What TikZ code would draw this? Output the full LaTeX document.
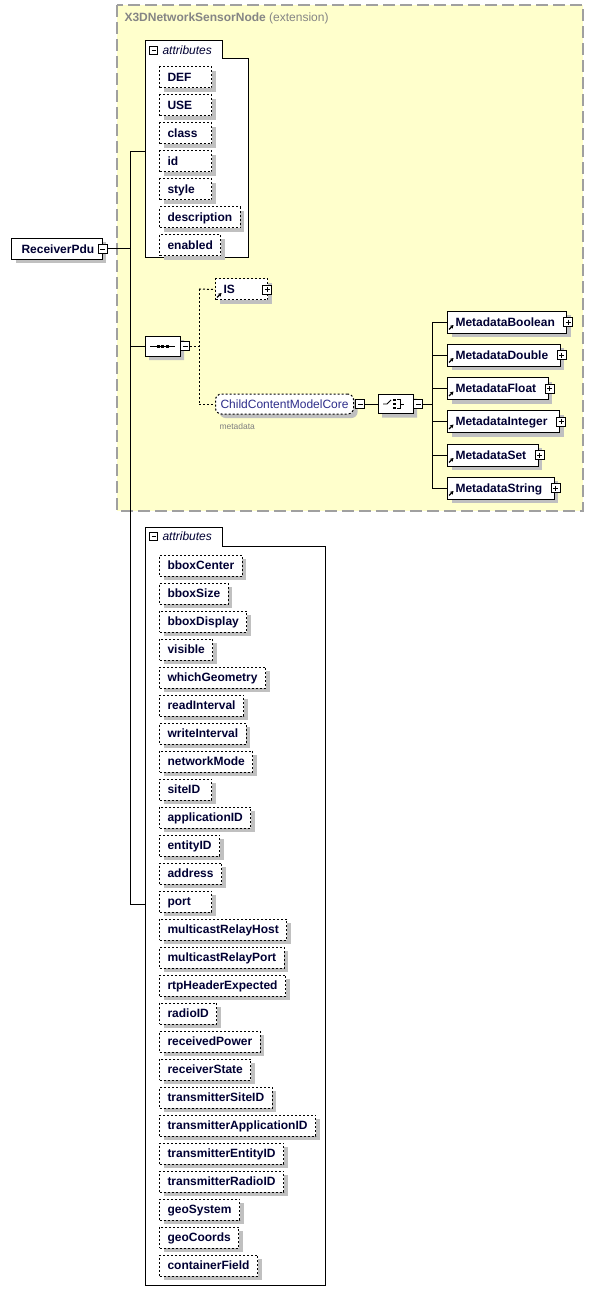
\documentclass[tikz,border=0pt]{standalone}
\usepackage{fontspec}
\setmainfont{Liberation Sans}
\usetikzlibrary{shadows,calc,shapes.misc,arrows.meta}
\definecolor{yel}{HTML}{FFFFCC}
\definecolor{yelborder}{HTML}{A0A0A0}
\definecolor{shd}{HTML}{C0C0C0}
\definecolor{txt}{HTML}{000033}
\definecolor{ttl}{HTML}{858585}
\definecolor{grp}{HTML}{2E2E8A}
\newcommand\mylbl[1]{\setbox0\hbox{#1}\ifdim\wd0<36pt\makebox[36pt][l]{#1}\else#1\fi}
\begin{document}
\begin{tikzpicture}[x=1pt,y=-1pt,line width=1pt,
  shadowed/.style={drop shadow={shadow xshift=4pt,shadow yshift=-4pt,fill=shd,opacity=1}},
  attr/.style={draw,dash pattern=on 2pt off 2pt,fill=white,shadowed,
    font=\bfseries\fontsize{12}{14}\selectfont,text=txt,minimum height=21pt,
    text height=10.5pt,text depth=2pt,
    inner xsep=8pt,inner ysep=0pt,anchor=west},
  elem/.style={draw,fill=white,shadowed,font=\bfseries\fontsize{12}{14}\selectfont,
    text=txt,minimum height=22pt,text height=10.5pt,text depth=2pt,
    inner ysep=0pt,inner xsep=4pt,anchor=west},
  pm/.style={draw,fill=white,minimum size=9pt,inner sep=0pt,line width=.8pt},
  minusbox/.style={pm,path picture={\draw[line width=.8pt]
    ([xshift=2pt]path picture bounding box.west) -- ([xshift=-2pt]path picture bounding box.east);}},
  plusbox/.style={pm,path picture={\draw[line width=.8pt]
    ([xshift=2pt]path picture bounding box.west) -- ([xshift=-2pt]path picture bounding box.east)
    ([yshift=-2pt]path picture bounding box.north) -- ([yshift=2pt]path picture bounding box.south);}},
  compositor/.style={chamfered rectangle,chamfered rectangle xsep=6pt,draw,fill=white,shadowed,
    minimum width=35pt,minimum height=20pt,inner sep=0pt},
  refarrow/.style={line width=1.1pt,-{Stealth[length=3.5pt,width=4pt]}},
  dashedline/.style={dash pattern=on 2pt off 2pt},
  boxtitle/.style={anchor=west,font=\itshape\fontsize{12}{13}\selectfont,text=txt,inner sep=0pt}
]
\useasboundingbox (0,0) rectangle (594,1305);

% extension area
\draw[yelborder,line width=1.5pt,dash pattern=on 12pt off 5pt,fill=yel] (117,5) rectangle (583,511);
\node[anchor=west,inner sep=0pt,text=ttl,font=\fontsize{12}{14}\selectfont] (title) at (124,18)
  {\textbf{X3DNetworkSensorNode} (extension)};

% top attributes box
\draw[fill=white] (145,41) -- (222,41) -- (222,59) -- (248,59) -- (248,258) -- (145,258) -- cycle;
\coordinate (a1in) at (145,152);
\node[minusbox,minimum size=8pt] (a1m) at (153.5,50.5) {};
\node[boxtitle] (a1t) at (162,50) {attributes};
\foreach \t [count=\i from 0] in {DEF,USE,class,id,style,description,enabled}
  \node[attr] (t\i) at (159,{77.5+28*\i}) {\mylbl{\t}};

% root
\node[elem,minimum height=21pt,inner xsep=8pt] (root) at (11,249) {\hspace*{2pt}ReceiverPdu};
\node[minusbox] (rootm) at (root.east) {};

% trunk
\coordinate (j0) at (130,249);
\coordinate (j1) at (130,152);
\coordinate (j2) at (130,346);
\coordinate (j3) at (130,904);
\draw (rootm.east) -- (j0);
\draw (j1) -- (j3);
\draw (j1) -- (a1in);

% sequence
\node[compositor] (seq) at (162.5,346) {};
\begin{scope}[shift={(seq.center)}]
  \draw (-12.5,0) -- (12.5,0);
  \foreach \dx in {-4.5,0,4.5} \fill (\dx,0) +(-1.5,-1.5) rectangle +(1.5,1.5);
\end{scope}
\node[minusbox] (seqm) at ([xshift=4.5pt]seq.east) {};
\draw (j2) -- (seq.west);

\coordinate (d0) at (199,346);
\coordinate (d1) at (199,289);
\coordinate (d2) at (199,404);
\draw[dashedline] (seqm.east) -- (d0);
\draw[dashedline] (d1) -- (d2);

% IS
\node[attr,minimum height=21pt] (is) at (215,289.5) {\mylbl{IS}};
\draw[refarrow] ([xshift=2pt,yshift=3pt]is.south west) -- ++(4.5,-4.5);
\node[plusbox] (isp) at ([xshift=-1pt]is.east) {};
\draw[dashedline] (d1) -- (is.west);

% ChildContentModelCore
\node[draw,dashedline,rounded corners=6pt,fill=white,shadowed,font=\fontsize{12}{14}\selectfont,
  text=grp,minimum height=20pt,text height=10.5pt,text depth=2pt,inner xsep=5pt,inner ysep=0pt,anchor=west] (ccmc) at (215,404)
  {ChildContentModelCore};
\node[anchor=west,inner sep=0pt,text=gray,font=\fontsize{8.5}{10}\selectfont] (ccmclbl) at (219,426) {metadata};
\node[minusbox] (ccmcm) at ([xshift=6pt]ccmc.east) {};
\draw[dashedline] (d2) -- (ccmc.west);

% choice
\node[compositor,minimum height=19pt] (cho) at (395.5,404) {};
\begin{scope}[shift={(cho.center)}]
  \draw[line width=.9pt] (-12.5,0) -- (-8.5,0) -- (-4.5,-4);
  \foreach \dy in {-4,0,4} \fill (-1,\dy) +(-1.3,-1.3) rectangle +(1.3,1.3);
  \draw[line width=.9pt] (1.5,-4.5) -- (5,-4.5) -- (5,4.5) -- (1.5,4.5) (5,0) -- (8.5,0);
\end{scope}
\node[minusbox] (chom) at ([xshift=4.5pt]cho.east) {};
\draw (ccmcm.east) -- (cho.west);

\coordinate (c0) at (432,404);
\coordinate (c1) at (432,322);
\coordinate (c2) at (432,488);
\draw (chom.east) -- (c0);
\draw (c1) -- (c2);

\foreach \t/\y [count=\i] in {MetadataBoolean/322,MetadataDouble/355,MetadataFloat/388.5,
    MetadataInteger/421.5,MetadataSet/455,MetadataString/488} {
  \node[elem] (m\i) at (447,\y) {\hspace*{4pt}\t\hspace*{8pt}};
  \draw[refarrow] ([xshift=2pt,yshift=4pt]m\i.south west) -- ++(4.5,-4.5);
  \node[plusbox] (m\i p) at ([xshift=1pt]m\i.east) {};
  \draw (432,\y) -- (m\i.west);
}

% lower attributes box
\draw[fill=white] (145,527) -- (222,527) -- (222,546) -- (325,546) -- (325,1285) -- (145,1285) -- cycle;
\coordinate (a2in) at (145,904);
\node[minusbox,minimum size=8pt] (a2m) at (153.5,536.5) {};
\node[boxtitle] (a2t) at (162,536) {attributes};
\foreach \t [count=\i from 0] in {bboxCenter,bboxSize,bboxDisplay,visible,whichGeometry,
    readInterval,writeInterval,networkMode,siteID,applicationID,entityID,address,port,
    multicastRelayHost,multicastRelayPort,rtpHeaderExpected,radioID,receivedPower,
    receiverState,transmitterSiteID,transmitterApplicationID,transmitterEntityID,
    transmitterRadioID,geoSystem,geoCoords,containerField}
  \node[attr] (b\i) at (159,{565.5+28*\i}) {\mylbl{\t}};
\draw (j3) -- (a2in);
\end{tikzpicture}
\end{document}
